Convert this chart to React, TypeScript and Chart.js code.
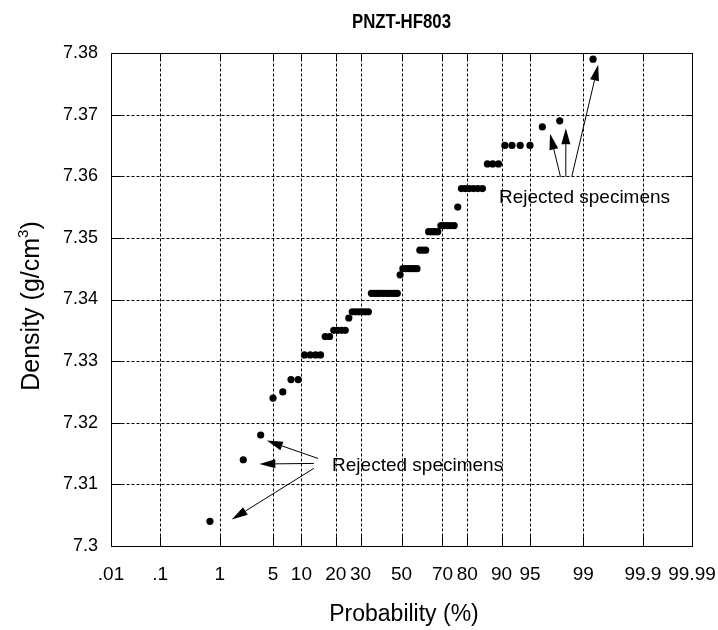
import React, { useEffect, useRef } from 'react';
import { Chart, registerables } from 'chart.js';

Chart.register(...registerables);

const TITLE = 'PNZT-HF803';
const X_TITLE = 'Probability (%)';
const Y_TITLE_MAIN = 'Density (g/cm';
const Y_TITLE_SUP = '3';
const Y_TITLE_END = ')';

const PROB_TICKS = [0.01, 0.1, 1, 5, 10, 20, 30, 50, 70, 80, 90, 95, 99, 99.9, 99.99];
const PROB_TICK_LABELS = ['.01', '.1', '1', '5', '10', '20', '30', '50', '70', '80', '90', '95', '99', '99.9', '99.99'];

const Y_MIN = 7.3;
const Y_MAX = 7.38;
const Y_STEP = 0.01;

// cumulative probability (%) of each specimen, as plotted
const PROBABILITY = [
  0.71, 2.14, 3.57, 5.0, 6.43, 7.86, 9.29, 10.71, 12.14, 13.57,
  15.0, 16.43, 17.86, 19.29, 20.71, 22.14, 23.57, 25.0, 26.43, 27.86,
  29.29, 30.71, 32.14, 33.57, 35.0, 36.43, 37.86, 39.29, 40.71, 42.14,
  43.57, 45.0, 46.43, 47.86, 49.29, 50.71, 52.14, 53.57, 55.0, 56.43,
  57.86, 59.29, 60.71, 62.14, 63.57, 65.0, 66.43, 67.86, 69.29, 70.71,
  72.14, 73.57, 75.0, 76.43, 77.86, 79.29, 80.71, 82.14, 83.57, 85.0,
  86.43, 87.86, 89.29, 90.71, 92.14, 93.57, 95.0, 96.43, 97.86, 99.29,
];

// density (g/cm3) of each specimen
const DENSITY = [
  7.304, 7.314, 7.318, 7.324, 7.325, 7.327, 7.327, 7.331, 7.331, 7.331,
  7.331, 7.334, 7.334, 7.335, 7.335, 7.335, 7.335, 7.337, 7.338, 7.338,
  7.338, 7.338, 7.338, 7.338, 7.341, 7.341, 7.341, 7.341, 7.341, 7.341,
  7.341, 7.341, 7.341, 7.341, 7.344, 7.345, 7.345, 7.345, 7.345, 7.345,
  7.345, 7.348, 7.348, 7.348, 7.351, 7.351, 7.351, 7.351, 7.352, 7.352,
  7.352, 7.352, 7.352, 7.355, 7.358, 7.358, 7.358, 7.358, 7.358, 7.358,
  7.362, 7.362, 7.362, 7.365, 7.365, 7.365, 7.365, 7.368, 7.369, 7.379,
];

// annotations (in data units: probability %, density)
const NOTE_TEXT = 'Rejected specimens';
const NOTE_P = [18.7, 89.4];
const NOTE_D = [7.3131, 7.35654];

const ARROW_FROM_P = [14.3, 13.1, 13.1, 97.91, 98.23, 98.54];
const ARROW_FROM_D = [7.3142, 7.3134, 7.3126, 7.3599, 7.3599, 7.36];
const ARROW_TO_P = [4.23, 3.44, 1.49, 97.14, 98.23, 99.41];
const ARROW_TO_D = [7.3171, 7.3133, 7.3043, 7.3669, 7.3678, 7.3781];

const FONT = '"Liberation Sans", Arial, sans-serif';

// inverse standard normal CDF (Acklam)
function probit(p: number): number {
  const a = [-3.969683028665376e1, 2.209460984245205e2, -2.759285104469687e2, 1.38357751867269e2, -3.066479806614716e1, 2.506628277459239];
  const b = [-5.447609879822406e1, 1.615858368580409e2, -1.556989798598866e2, 6.680131188771972e1, -1.328068155288572e1];
  const c = [-7.784894002430293e-3, -3.223964580411365e-1, -2.400758277161838, -2.549671348942545, 4.374664141464968, 2.938163982698783];
  const d = [7.784695709041462e-3, 3.224671290700398e-1, 2.445134137142996, 3.754408661907416];
  const plow = 0.02425;
  const phigh = 1 - plow;
  if (p < plow) {
    const q = Math.sqrt(-2 * Math.log(p));
    return (((((c[0] * q + c[1]) * q + c[2]) * q + c[3]) * q + c[4]) * q + c[5]) / ((((d[0] * q + d[1]) * q + d[2]) * q + d[3]) * q + 1);
  }
  if (p > phigh) {
    const q = Math.sqrt(-2 * Math.log(1 - p));
    return -(((((c[0] * q + c[1]) * q + c[2]) * q + c[3]) * q + c[4]) * q + c[5]) / ((((d[0] * q + d[1]) * q + d[2]) * q + d[3]) * q + 1);
  }
  const q = p - 0.5;
  const r = q * q;
  return ((((((a[0] * r + a[1]) * r + a[2]) * r + a[3]) * r + a[4]) * r + a[5]) * q) / (((((b[0] * r + b[1]) * r + b[2]) * r + b[3]) * r + b[4]) * r + 1);
}

const zOf = (pct: number) => probit(pct / 100);

function drawArrow(ctx: CanvasRenderingContext2D, x1: number, y1: number, x2: number, y2: number) {
  const ang = Math.atan2(y2 - y1, x2 - x1);
  const L = 16;
  const W = 4.5;
  const bx = x2 - L * Math.cos(ang);
  const by = y2 - L * Math.sin(ang);
  ctx.beginPath();
  ctx.moveTo(x1, y1);
  ctx.lineTo(bx, by);
  ctx.stroke();
  ctx.beginPath();
  ctx.moveTo(x2, y2);
  ctx.lineTo(bx + W * Math.sin(ang), by - W * Math.cos(ang));
  ctx.lineTo(bx - W * Math.sin(ang), by + W * Math.cos(ang));
  ctx.closePath();
  ctx.fill();
}

const decorPlugin = {
  id: 'probDecor',
  beforeDatasetsDraw(chart: any) {
    const { ctx, chartArea: a, scales } = chart;
    const x = scales.x;
    const y = scales.y;
    const L = Math.round(a.left) + 0.5;
    const R = Math.round(a.right) + 0.5;
    const T = Math.round(a.top) + 0.5;
    const B = Math.round(a.bottom) + 0.5;
    ctx.save();
    ctx.strokeStyle = '#000';
    ctx.lineWidth = 1;
    ctx.setLineDash([3, 2]);
    const xs: number[] = [];
    for (const p of PROB_TICKS) {
      const px = Math.round(x.getPixelForValue(zOf(p))) + 0.5;
      xs.push(px);
      if (px <= L + 1 || px >= R - 1) continue;
      ctx.beginPath();
      ctx.moveTo(px, T);
      ctx.lineTo(px, B);
      ctx.stroke();
    }
    const ys: number[] = [];
    for (const t of y.ticks) {
      const py = Math.round(y.getPixelForValue(t.value)) + 0.5;
      ys.push(py);
      if (py <= T + 1 || py >= B - 1) continue;
      ctx.beginPath();
      ctx.moveTo(L, py);
      ctx.lineTo(R, py);
      ctx.stroke();
    }
    ctx.setLineDash([]);
    // inside tick marks
    ctx.beginPath();
    for (const px of xs) {
      ctx.moveTo(px, B);
      ctx.lineTo(px, B - 10);
      ctx.moveTo(px, T);
      ctx.lineTo(px, T + 7);
    }
    for (const py of ys) {
      ctx.moveTo(L, py);
      ctx.lineTo(L + 10, py);
      ctx.moveTo(R, py);
      ctx.lineTo(R - 7, py);
    }
    ctx.stroke();
    ctx.strokeRect(L, T, R - L, B - T);

    // x tick labels
    ctx.fillStyle = '#000';
    ctx.font = `19px ${FONT}`;
    ctx.textAlign = 'center';
    ctx.textBaseline = 'alphabetic';
    PROB_TICKS.forEach((p, i) => {
      ctx.fillText(PROB_TICK_LABELS[i], x.getPixelForValue(zOf(p)), a.bottom + 34);
    });
    ctx.restore();
  },
  afterDatasetsDraw(chart: any) {
    const { ctx, chartArea: a, scales } = chart;
    const x = scales.x;
    const y = scales.y;
    ctx.save();
    ctx.strokeStyle = '#000';
    ctx.fillStyle = '#000';
    ctx.lineWidth = 1;
    for (let i = 0; i < ARROW_FROM_P.length; i++) {
      drawArrow(
        ctx,
        x.getPixelForValue(zOf(ARROW_FROM_P[i])),
        y.getPixelForValue(ARROW_FROM_D[i]),
        x.getPixelForValue(zOf(ARROW_TO_P[i])),
        y.getPixelForValue(ARROW_TO_D[i])
      );
    }
    ctx.font = `19px ${FONT}`;
    ctx.textAlign = 'left';
    ctx.textBaseline = 'middle';
    for (let i = 0; i < NOTE_P.length; i++) {
      ctx.fillText(NOTE_TEXT, x.getPixelForValue(zOf(NOTE_P[i])), y.getPixelForValue(NOTE_D[i]));
    }
    // main title (condensed bold)
    ctx.save();
    ctx.translate((a.left + a.right) / 2, 28);
    ctx.scale(0.84, 1);
    ctx.font = `bold 20px ${FONT}`;
    ctx.textAlign = 'center';
    ctx.textBaseline = 'alphabetic';
    ctx.fillText(TITLE, 0, 0);
    ctx.restore();
    // x title
    ctx.font = `23px ${FONT}`;
    ctx.textAlign = 'center';
    ctx.textBaseline = 'alphabetic';
    ctx.fillText(X_TITLE, 404, 621);
    // y title with superscript
    ctx.save();
    ctx.translate(30, 306);
    ctx.rotate(-Math.PI / 2);
    ctx.font = `25px ${FONT}`;
    const w1 = ctx.measureText(Y_TITLE_MAIN).width;
    const w3 = ctx.measureText(Y_TITLE_END).width;
    ctx.font = `15px ${FONT}`;
    const w2 = ctx.measureText(Y_TITLE_SUP).width;
    const total = w1 + w2 + w3;
    let sx = -total / 2;
    ctx.textAlign = 'left';
    ctx.textBaseline = 'alphabetic';
    ctx.font = `25px ${FONT}`;
    ctx.fillText(Y_TITLE_MAIN, sx, 9);
    sx += w1;
    ctx.font = `15px ${FONT}`;
    ctx.fillText(Y_TITLE_SUP, sx, -2);
    sx += w2;
    ctx.font = `25px ${FONT}`;
    ctx.fillText(Y_TITLE_END, sx, 9);
    ctx.restore();
    ctx.restore();
  },
};

export default function App() {
  const canvasRef = useRef<HTMLCanvasElement | null>(null);

  useEffect(() => {
    if (!canvasRef.current) return;
    const points = PROBABILITY.map((p, i) => ({ x: zOf(p), y: DENSITY[i] }));
    const chart = new Chart(canvasRef.current, {
      type: 'scatter',
      data: {
        datasets: [
          {
            label: 'Density',
            data: points,
            pointRadius: 3.6,
            pointHoverRadius: 3.6,
            pointBackgroundColor: '#000',
            pointBorderWidth: 0,
            showLine: false,
          },
        ],
      },
      options: {
        animation: false,
        responsive: true,
        maintainAspectRatio: false,
        events: [],
        layout: { padding: { left: 0, top: 53, right: 26, bottom: 0 } },
        plugins: {
          legend: { display: false },
          tooltip: { enabled: false },
          title: { display: false },
        },
        scales: {
          x: {
            type: 'linear',
            min: zOf(PROB_TICKS[0]),
            max: zOf(PROB_TICKS[PROB_TICKS.length - 1]),
            grid: { display: false, drawTicks: false },
            border: { display: false },
            afterBuildTicks: (scale: any) => {
              scale.ticks = PROB_TICKS.map((p) => ({ value: zOf(p) }));
            },
            afterFit: (scale: any) => {
              scale.height = 84;
            },
            ticks: { display: false },
          },
          y: {
            type: 'linear',
            min: Y_MIN,
            max: Y_MAX,
            grid: { display: false, drawTicks: false },
            border: { display: false },
            afterFit: (scale: any) => {
              scale.width = 111;
            },
            ticks: {
              stepSize: Y_STEP,
              padding: 13,
              color: '#000',
              font: { family: FONT, size: 18 },
              callback: (v: any) => String(Number(Number(v).toFixed(3))),
            },
          },
        },
      },
      plugins: [decorPlugin],
    } as any);
    return () => chart.destroy();
  }, []);

  return (
    <div style={{ position: 'fixed', left: 0, top: 0, width: 718, height: 630, background: '#fff' }}>
      <canvas ref={canvasRef} />
    </div>
  );
}
